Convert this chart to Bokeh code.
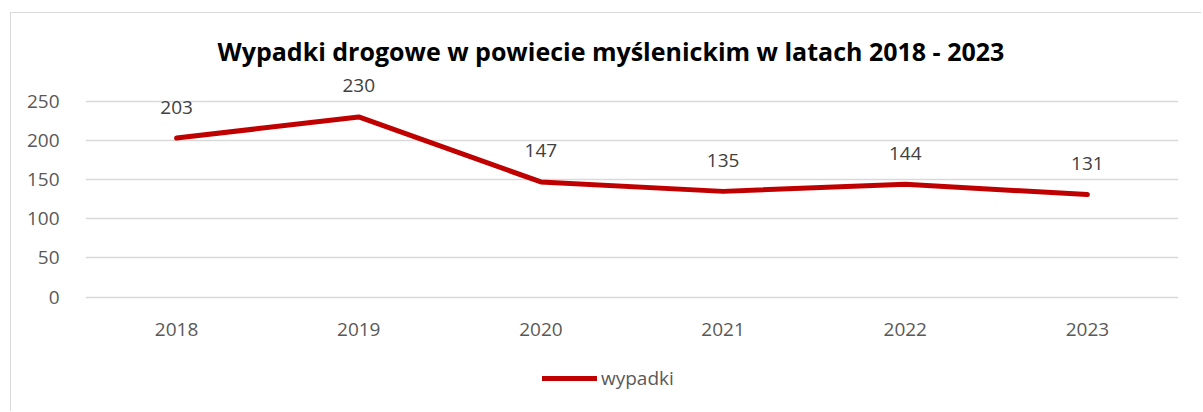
from bokeh.plotting import figure
from bokeh.layouts import column
from bokeh.models import (FactorRange, Range1d, FixedTicker, ColumnDataSource, LabelSet,
                          Legend, LegendItem, Title)
from bokeh.core.properties import value
from bokeh.embed import file_html
from bokeh.resources import INLINE

years = ["2018", "2019", "2020", "2021", "2022", "2023"]
wypadki = [203, 230, 147, 135, 144, 131]
y_ticks = [0, 50, 100, 150, 200, 250]
title_text = "Wypadki drogowe w powiecie myślenickim w latach 2018 - 2023"
series_name = "wypadki"

FONT = "Open Sans"
RED = "#C00000"
BORDER = "1.5px solid #d9d9d9"

src = ColumnDataSource(dict(x=years, y=wypadki, lbl=[str(v) for v in wypadki]))

p = figure(width=1191, height=345, x_range=FactorRange(*years, range_padding=0),
           y_range=Range1d(-3, 288), output_backend="svg", toolbar_location=None,
           min_border_left=74, min_border_right=24, min_border_top=58, min_border_bottom=59)
p.margin = (12, 0, 0, 10)
p.styles = {"border-top": BORDER, "border-left": BORDER}
p.outline_line_color = None
p.background_fill_color = "white"
p.border_fill_color = "white"

p.yaxis.ticker = FixedTicker(ticks=y_ticks)
for ax in (p.xaxis[0], p.yaxis[0]):
    ax.axis_line_color = None
    ax.major_tick_line_color = None
    ax.minor_tick_line_color = None
    ax.major_label_text_font = FONT
    ax.major_label_text_font_size = "19px"
    ax.major_label_text_color = "#595959"
p.yaxis.major_label_standoff = 20
p.xaxis.major_label_standoff = 17
p.xgrid.grid_line_color = None
p.ygrid.grid_line_color = "#d9d9d9"
p.ygrid.grid_line_width = 1.5

r = p.line("x", "y", source=src, line_width=5, line_color=RED,
           line_join="round", line_cap="round")

p.add_layout(LabelSet(x="x", y="y", text="lbl", source=src, y_offset=31,
                      text_align="center", text_baseline="middle",
                      text_font=value(FONT), text_font_size=value("19px"),
                      text_color="#404040"))

p.add_layout(Title(text=title_text, align="left", offset=132, standoff=8,
                   text_font=FONT, text_font_size="25px", text_font_style="bold",
                   text_color="black"), "above")

# legend strip below the chart (series drawn off-view so the legend has its glyph)
p2 = figure(width=1191, height=54, x_range=FactorRange(*years, range_padding=0),
            y_range=Range1d(1000, 1001), x_axis_type=None, y_axis_type=None,
            output_backend="svg", toolbar_location=None, min_border=0)
p2.margin = (0, 0, 0, 10)
p2.styles = {"border-left": BORDER}
p2.outline_line_color = None
p2.grid.visible = False
p2.background_fill_color = "white"
p2.border_fill_color = "white"
r2 = p2.line("x", "y", source=src, line_width=5, line_color=RED, line_cap="round")
leg = Legend(items=[LegendItem(label=series_name, renderers=[r2])],
             location=(457, 20), orientation="horizontal",
             glyph_width=55, glyph_height=20, label_height=20, label_standoff=4,
             padding=0, margin=0, border_line_color=None, background_fill_alpha=0,
             label_text_font=FONT, label_text_font_size="19px", label_text_color="#595959")
p2.add_layout(leg, "center")

layout = column(p, p2, spacing=0)
open("out.html", "w").write(file_html(layout, INLINE))
